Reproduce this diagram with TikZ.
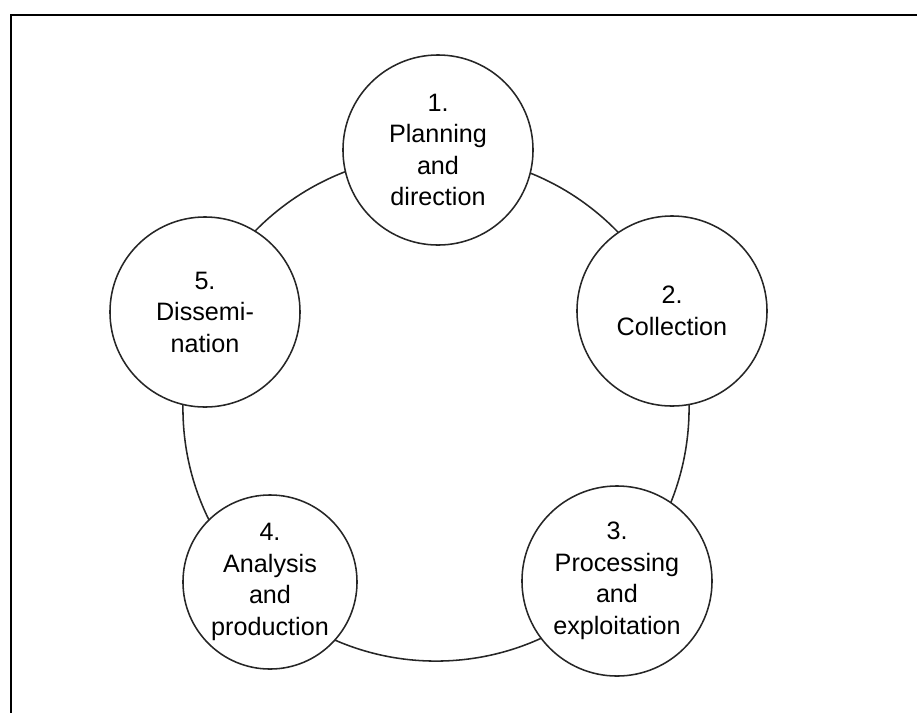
\documentclass[tikz,border=0pt]{standalone}
\usepackage{fontspec}
\setmainfont{Liberation Sans}
\usepackage{tikz}
\usetikzlibrary{shapes}

\begin{document}
\begin{tikzpicture}[x=0.025cm,y=-0.025cm]
\tikzstyle{stage}=[draw=black!85,line width=1.1pt,circle,fill=white,inner sep=0pt,
  minimum size=4.75cm,align=center,text=black,font=\fontsize{17.9}{22.4}\selectfont]
\tikzstyle{ring}=[draw=black!85,line width=1.1pt,circle,inner sep=0pt,minimum size=12.65cm]
\useasboundingbox (0,0) rectangle (917,713);
\draw[line width=1.5pt] (917,15) -- (11,15) -- (11,713);
\node [ring] (cycle) at (436,408) {};
\node [stage] (plan) at (438,150) {1.\\Planning\\and\\direction};
\node [stage] (collect) at (672,311) {2.\\Collection};
\node [stage] (process) at (617,581) {3.\\Processing\\and\\exploitation};
\node [stage,minimum size=4.35cm] (analyse) at (270,582) {4.\\Analysis\\and\\production};
\node [stage] (dissem) at (205,312) {5.\\Dissemi-\\nation};
\end{tikzpicture}
\end{document}
